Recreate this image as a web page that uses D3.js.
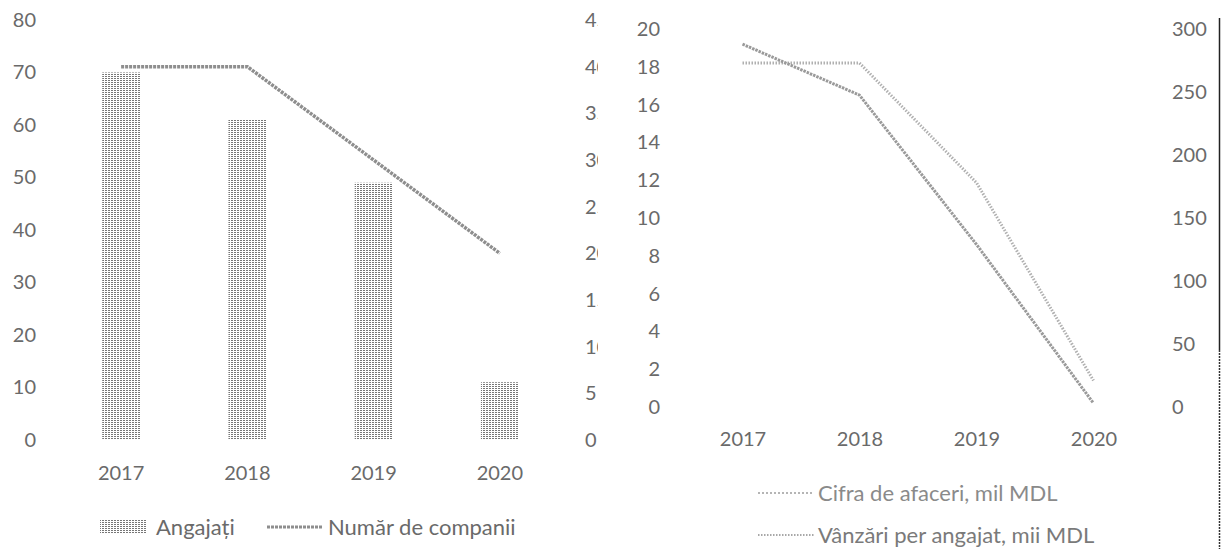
<!DOCTYPE html>
<html><head><meta charset="utf-8">
<script src="https://cdn.jsdelivr.net/npm/d3@7/dist/d3.min.js"></script>
<style>
body{margin:0;background:#fff}
svg{display:block}
text{font-family:Lato,"Open Sans",sans-serif}
</style>
</head><body>
<svg id="c" width="1221" height="549"></svg>
<script>
// ---- data ----
const years = ["2017", "2018", "2019", "2020"];
const angajati = [70, 61, 49, 11];
const companii = [40, 40, 30, 20];
const cifraAfaceri = [19.2, 16.5, 8.6, 0.2];
const vanzariPerAngajat = [273, 273, 178, 21];
const ticksAngajati = [0, 10, 20, 30, 40, 50, 60, 70, 80];
const ticksCompanii = [0, 5, 10, 15, 20, 25, 30, 35, 40, 45];
const ticksCifra = [0, 2, 4, 6, 8, 10, 12, 14, 16, 18, 20];
const ticksVanzari = [0, 50, 100, 150, 200, 250, 300];
const legendLeft = ["Angajați", "Număr de companii"];
const legendRight = ["Cifra de afaceri, mil MDL", "Vânzări per angajat, mii MDL"];

const svg = d3.select("#c");
const txt = "#6a6a6a";
const fs = 20;
const lfs = 22;

const defs = svg.append("defs");
const pat = defs.append("pattern").attr("id", "stip").attr("patternUnits", "userSpaceOnUse")
  .attr("width", 3).attr("height", 2);
pat.append("rect").attr("width", 3).attr("height", 2).attr("fill", "#fff");
pat.append("rect").attr("x", 0).attr("y", 0).attr("width", 2).attr("height", 1).attr("fill", "#777");
defs.append("clipPath").attr("id", "clipL").append("rect")
  .attr("x", 0).attr("y", 0).attr("width", 598).attr("height", 549);

function styleAxis(g, anchor) {
  g.select(".domain").remove();
  g.selectAll("line").remove();
  g.selectAll("text").attr("fill", txt).attr("font-size", fs).attr("text-anchor", anchor);
  g.attr("font-family", null).attr("font-size", null);
}

// ---- left chart ----
const xL = d3.scaleBand().domain(years).range([58, 563]).paddingInner(0.7).paddingOuter(0.35);
const yL = d3.scaleLinear().domain([0, 80]).range([440, 20]);
const yL2 = d3.scaleLinear().domain([0, 45]).range([440, 20]);

const gL = svg.append("g").attr("clip-path", "url(#clipL)");

gL.append("g").attr("transform", "translate(36,0)")
  .call(d3.axisLeft(yL).tickValues(ticksAngajati).tickSize(0).tickPadding(0))
  .call(g => styleAxis(g, "end"));
gL.append("g").attr("transform", "translate(585,0)")
  .call(d3.axisRight(yL2).tickValues(ticksCompanii).tickSize(0).tickPadding(0))
  .call(g => styleAxis(g, "start"));
gL.append("g").attr("transform", "translate(0,466)")
  .call(d3.axisBottom(xL).tickSize(0).tickPadding(0))
  .call(g => styleAxis(g, "middle"));

gL.selectAll("rect.bar").data(years).join("rect").attr("class", "bar")
  .attr("x", d => xL(d)).attr("width", xL.bandwidth())
  .attr("y", (d, i) => yL(angajati[i])).attr("height", (d, i) => yL(0) - yL(angajati[i]))
  .attr("fill", "url(#stip)");

const lineComp = d3.line().x((d, i) => xL(years[i]) + xL.bandwidth() / 2).y(d => yL2(d));
gL.append("path").datum(companii).attr("d", lineComp)
  .attr("fill", "none").attr("stroke", "#8e8e8e").attr("stroke-width", 3.5)
  .attr("stroke-dasharray", "3,1");

// left legend
const lgL = svg.append("g");
lgL.append("rect").attr("x", 100).attr("y", 520).attr("width", 46).attr("height", 14).attr("fill", "url(#stip)");
lgL.append("text").attr("x", 156).attr("y", 527).attr("dy", "0.35em").attr("font-size", lfs).attr("fill", txt).text(legendLeft[0]);
lgL.append("line").attr("x1", 267).attr("x2", 322).attr("y1", 527).attr("y2", 527)
  .attr("stroke", "#8e8e8e").attr("stroke-width", 3).attr("stroke-dasharray", "3,1");
lgL.append("text").attr("x", 328).attr("y", 527).attr("dy", "0.35em").attr("font-size", lfs).attr("fill", txt).text(legendLeft[1]);

// ---- right chart ----
const xR = d3.scalePoint().domain(years).range([684, 1152]).padding(0.5);
const yR = d3.scaleLinear().domain([0, 20]).range([407, 29]);
const yR2 = d3.scaleLinear().domain([0, 300]).range([407, 29]);

svg.append("g").attr("transform", "translate(660,0)")
  .call(d3.axisLeft(yR).tickValues(ticksCifra).tickSize(0).tickPadding(0))
  .call(g => styleAxis(g, "end"));
svg.append("g").attr("transform", "translate(1172,0)")
  .call(d3.axisRight(yR2).tickValues(ticksVanzari).tickSize(0).tickPadding(0))
  .call(g => styleAxis(g, "start"));
svg.append("g").attr("transform", "translate(0,432)")
  .call(d3.axisBottom(xR).tickSize(0).tickPadding(0))
  .call(g => styleAxis(g, "middle"));

const lineC = d3.line().x((d, i) => xR(years[i])).y(d => yR(d));
const lineV = d3.line().x((d, i) => xR(years[i])).y(d => yR2(d));
svg.append("path").datum(vanzariPerAngajat).attr("d", lineV)
  .attr("fill", "none").attr("stroke", "#b0b0b0").attr("stroke-width", 3)
  .attr("stroke-dasharray", "1.5,1.5");
svg.append("path").datum(cifraAfaceri).attr("d", lineC)
  .attr("fill", "none").attr("stroke", "#9a9a9a").attr("stroke-width", 3)
  .attr("stroke-dasharray", "2.5,1");

// right legend
const lgR = svg.append("g");
lgR.append("line").attr("x1", 758).attr("x2", 814).attr("y1", 493).attr("y2", 493)
  .attr("stroke", "#b5b5b5").attr("stroke-width", 2).attr("stroke-dasharray", "2,2");
lgR.append("text").attr("x", 818).attr("y", 493).attr("dy", "0.35em").attr("font-size", lfs).attr("fill", "#8a8a8a").text(legendRight[0]);
lgR.append("line").attr("x1", 758).attr("x2", 814).attr("y1", 535).attr("y2", 535)
  .attr("stroke", "#a8a8a8").attr("stroke-width", 2).attr("stroke-dasharray", "1.5,1.5");
lgR.append("text").attr("x", 818).attr("y", 535).attr("dy", "0.35em").attr("font-size", lfs).attr("fill", "#7a7a7a").text(legendRight[1]);

// scan border on the right
svg.append("line").attr("x1", 1219.5).attr("x2", 1219.5).attr("y1", 18).attr("y2", 350)
  .attr("stroke", "#222").attr("stroke-width", 1.5);
svg.append("line").attr("x1", 1219.5).attr("x2", 1219.5).attr("y1", 350).attr("y2", 549)
  .attr("stroke", "#333").attr("stroke-width", 1.5).attr("stroke-dasharray", "2,1");
</script>
</body></html>
